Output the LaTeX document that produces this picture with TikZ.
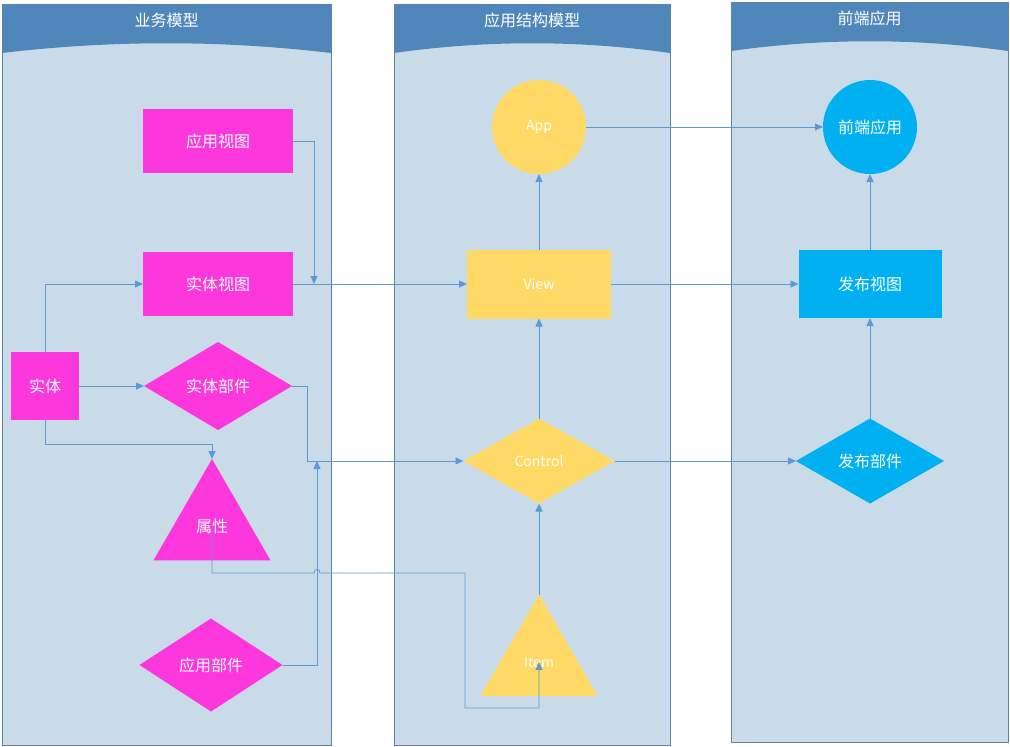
\documentclass[tikz,border=0pt]{standalone}
\usepackage{fontspec}
\setmainfont{Noto Sans CJK SC}
\usetikzlibrary{shapes.geometric,arrows.meta}

\definecolor{lanebg}{HTML}{C9DAE9}
\definecolor{lanehead}{HTML}{4F87BB}
\definecolor{laneline}{HTML}{5A83B0}
\definecolor{pink}{HTML}{FC38DC}
\definecolor{gold}{HTML}{FFD966}
\definecolor{sky}{HTML}{00B0F0}
\definecolor{wire}{HTML}{5B9BD5}

\tikzset{
	shp/.style={text=white, inner sep=0pt, outer sep=0pt, font=\fontsize{16}{19}\selectfont},
	lat/.style={font=\fontsize{14}{17}\selectfont},
	box/.style={shp, rectangle, minimum width=#1, minimum height=64pt},
	dia/.style={shp, diamond, minimum width=#1, minimum height=88pt},
	tri/.style={shp, regular polygon, regular polygon sides=3, minimum size=135pt},
	ball/.style={shp, circle, minimum size=94pt},
	link/.style={draw=wire, line width=0.8pt, -{Triangle[length=8pt,width=7pt]}},
}

\begin{document}
\begin{tikzpicture}[x=1pt, y=-1pt]
		\useasboundingbox (0,0) rectangle (1010,747);
		%lanes
		\foreach \xa/\xb/\ya/\yb/\ttl in {2/331/4/745/业务模型, 394/670/4/745/应用结构模型, 731/1008/2/742/前端应用}{
			\fill[lanebg] (\xa,\ya) rectangle (\xb,\yb);
			\fill[lanehead] (\xa,\ya) -- (\xb,\ya) -- (\xb,{\ya+49})
				.. controls ({\xb-(\xb-\xa)/3},{\ya+36}) and ({\xa+(\xb-\xa)/3},{\ya+36}) .. (\xa,{\ya+49}) -- cycle;
			\draw[laneline, line width=0.9pt] (\xa,\ya) rectangle (\xb,\yb);
			\node[text=white, font=\fontsize{16}{19}\selectfont] at ({(\xa+\xb)/2},{\ya+16}){\ttl};
		}
		
		%business model
		\node (appview) at (218,141) [box=150pt, fill=pink]{应用视图};
		\node (entview) at (218,284) [box=150pt, fill=pink]{实体视图};
		\node (entity) at (45,386) [box=68pt, minimum height=68pt, fill=pink]{实体};
		\node (entpart) at (218,386) [dia=148pt, fill=pink]{实体部件};
		\node (attr) at (212,526.5) [tri, fill=pink]{属性};
		\node (apppart) at (211,665) [dia=143pt, minimum height=93pt, fill=pink]{应用部件};
		
		%structure model
		\node (app) at (539,127) [ball, lat, fill=gold]{App};
		\node (view) at (539,284) [box=144pt, minimum height=69pt, lat, fill=gold]{View};
		\node (control) at (539,461) [dia=151pt, minimum height=85pt, lat, fill=gold]{Control};
		\node (item) at (539,662) [tri, lat, fill=gold]{Item};
		
		%front end
		\node (front) at (870,127) [ball, fill=sky]{前端应用};
		\node (pubview) at (870,284) [box=143pt, minimum height=68pt, fill=sky]{发布视图};
		\node (pubpart) at (870,461) [dia=148pt, minimum height=85pt, fill=sky]{发布部件};
		
		%links
		\draw[link] (appview.east) -| (314,284);
		\draw[link] (entview.east) -- (view.west);
		\draw[link] (entity.north) |- (entview.west);
		\draw[link] (entity.east) -- (entpart.west);
		\draw[link] (entity.south) -- ++(0,24) -| (attr.corner 1);
		\draw[link] (entpart.east) -- ++(15,0) |- (control.west);
		\draw[link] (apppart.east) -| (317,461);
		\draw[link] (attr.center) -- (212,573) -- (314,573)
			.. controls (314,568) and (320,568) .. (320,573) -- (465,573) -- (465,708) -| (item.center);
		\draw[link] (view.north) -- (app.south);
		\draw[link] (control.north) -- (view.south);
		\draw[link] (item.corner 1) -- (control.south);
		\draw[link] (app.east) -- (front.west);
		\draw[link] (view.east) -- (pubview.west);
		\draw[link] (control.east) -- (pubpart.west);
		\draw[link] (pubview.north) -- (front.south);
		\draw[link] (pubpart.north) -- (pubview.south);
\end{tikzpicture}
\end{document}
